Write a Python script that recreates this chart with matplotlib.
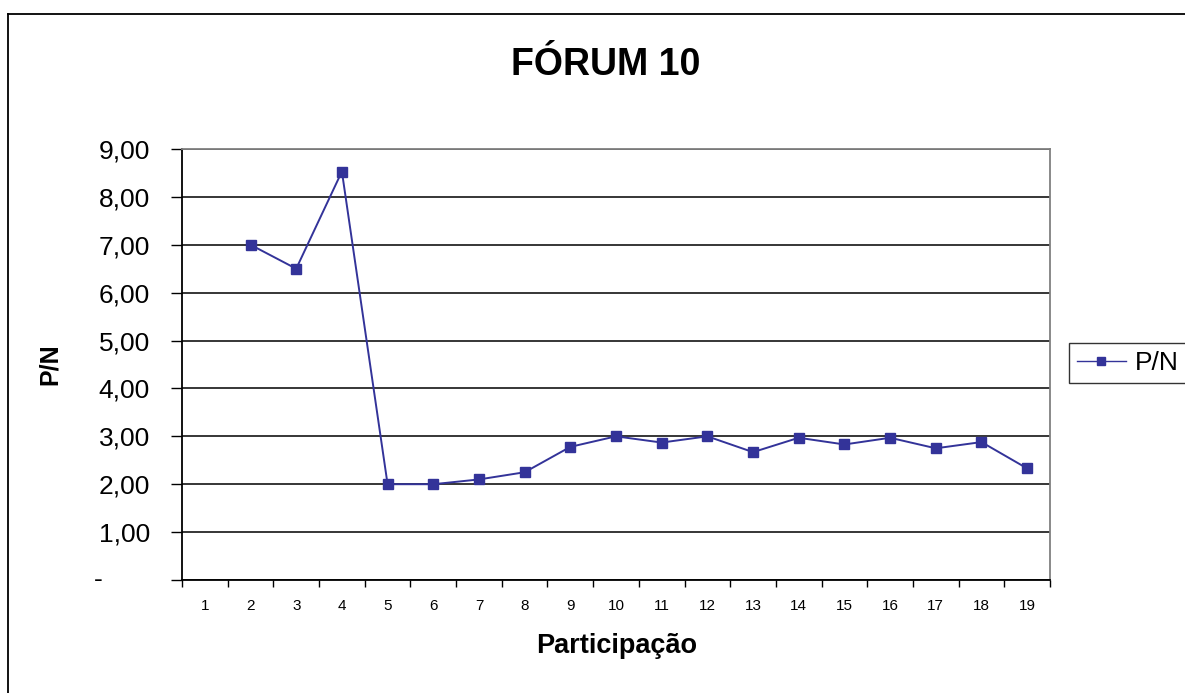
import matplotlib
matplotlib.use("Agg")
import matplotlib.pyplot as plt
from matplotlib.lines import Line2D

categories = list(range(1, 20))
values = [None, 7.00, 6.50, 8.53, 2.00, 2.00, 2.10, 2.25, 2.78, 3.00,
          2.87, 3.00, 2.67, 2.97, 2.83, 2.97, 2.75, 2.88, 2.33]
yticks = [0, 1, 2, 3, 4, 5, 6, 7, 8, 9]
ytick_labels = ["-", "1,00", "2,00", "3,00", "4,00", "5,00", "6,00", "7,00", "8,00", "9,00"]

plt.rcParams['font.family'] = ['Liberation Sans', 'DejaVu Sans']
W, H = 1185, 693
fig = plt.figure(figsize=(W/100, H/100), dpi=100)

# outer frame
fig.add_artist(Line2D([8/W, 8/W], [0, 1-14/H], color='black', lw=1.3, transform=fig.transFigure))
fig.add_artist(Line2D([8/W, 1], [1-14/H, 1-14/H], color='black', lw=1.3, transform=fig.transFigure))

ax = fig.add_axes([182/W, 1-580/H, 868/W, 431/H])
xs = [c for c, v in zip(categories, values) if v is not None]
ys = [v for v in values if v is not None]
ax.plot(xs, ys, color='#333399', lw=1.4, marker='s', markersize=7.5,
        markerfacecolor='#333399', markeredgecolor='#333399', label='P/N')

ax.set_xlim(0.5, 19.5)
ax.set_ylim(0, 9)
ax.set_yticks(yticks)
# the zero label ("-") is placed with accounting-style padding, drawn separately
ax.set_yticklabels([("" if t == 0 else l) for t, l in zip(yticks, ytick_labels)], fontsize=19)
ax.text(-0.0968, yticks[0], ytick_labels[0], transform=ax.get_yaxis_transform(),
        ha='center', va='center', fontsize=19)
ax.set_xticks(categories)
ax.set_xticklabels([str(c) for c in categories], fontsize=11)
ax.set_xticks([c + 0.5 for c in [0] + categories], minor=True)
ax.tick_params(axis='x', which='major', length=0, pad=14)
ax.tick_params(axis='x', which='minor', length=5, width=1, direction='out')
ax.tick_params(axis='y', length=8, width=1, direction='out', pad=15)
ax.yaxis.grid(True, color='black', lw=1.1)
ax.set_axisbelow(True)
for s in ('left', 'bottom'):
    ax.spines[s].set_color('black')
    ax.spines[s].set_linewidth(1.3)
for s in ('right', 'top'):
    ax.spines[s].set_color('#808080')
    ax.spines[s].set_linewidth(1.3)

fig.text(606/W, 1-75/H, "FÓRUM 10", ha='center', va='baseline', fontsize=27, fontweight='bold')
fig.text(617/W, 1-653/H, "Participação", ha='center', va='baseline', fontsize=19.5, fontweight='bold')
fig.text(50/W, 1-364/H, "P/N", ha='center', va='center', fontsize=18, fontweight='bold', rotation=90)

leg = fig.legend(loc='upper left', bbox_to_anchor=(1069/W, 1-343/H), fontsize=19,
                 frameon=True, fancybox=False, edgecolor='black', handlelength=1.85,
                 borderpad=0.3, handletextpad=0.35, markerscale=0.8, borderaxespad=0)
leg.get_frame().set_linewidth(1.0)
for h in leg.legend_handles:
    h.set_linewidth(1.0)

fig.savefig("out.png", dpi=100, facecolor='white')
